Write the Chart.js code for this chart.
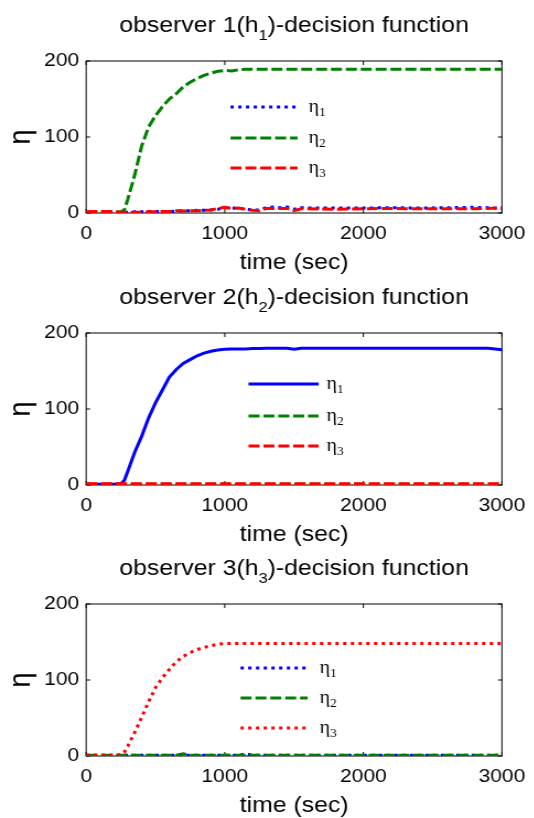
<!DOCTYPE html>
<html>
<head>
<meta charset="utf-8">
<script src="https://cdn.jsdelivr.net/npm/chart.js@4.4.1/dist/chart.umd.min.js"></script>
<style>
  html, body { margin: 0; padding: 0; background: #fff; width: 534px; height: 818px; overflow: hidden; }
  .panel { position: absolute; left: 0; transform-origin: 0 0; }
</style>
</head>
<body>
<div class="panel" id="p1"><canvas id="c1"></canvas></div>
<div class="panel" id="p2"><canvas id="c2"></canvas></div>
<div class="panel" id="p3"><canvas id="c3"></canvas></div>
<script>
// time axis (sec), shared by all series
const time = [0, 100, 200, 250, 275, 300, 350, 400, 450, 500,
  550, 600, 650, 700, 750, 800, 850, 900, 950, 1000,
  1050, 1100, 1150, 1200, 1250, 1300, 1350, 1400, 1450, 1500,
  1550, 1600, 1800, 2000, 2200, 2400, 2600, 2800, 2900, 3000];

// observer 1
const obs1Eta1 = [1, 0.5, 1, 1, 1, 1, 1.5, 1.5, 2, 2,
  2, 2, 2.5, 3, 3, 3.5, 3.5, 4, 5, 7,
  6.5, 6, 5, 4, 4, 7, 8, 7, 8, 5,
  7, 6.5, 6.5, 6.5, 7, 6.5, 7, 7.5, 7, 6];
const obs1Eta2 = [1, 1, 1, 1.5, 4, 18, 50, 88, 113, 128,
  140, 150, 157, 166, 172, 177, 181, 184, 186.5, 187.5,
  187, 188.5, 189, 189, 189, 189, 189, 189, 189, 189,
  189, 189, 189, 189, 189, 189, 189, 189, 189, 189];
const obs1Eta3 = [1.5, 2, 2, 1, 1, 0.5, 1, 1, 1.5, 1.5,
  2, 2, 3, 2.5, 3, 3, 3.5, 4, 6, 7.5,
  6, 6.5, 5, 3.5, 3, 6, 6, 6, 6, 3,
  5.5, 5.5, 5, 5.5, 6, 5.5, 5.5, 5.5, 6, 7];

// observer 2
const obs2Eta1 = [1, 1, 1, 1.5, 6, 18, 43, 64, 88, 108,
  125, 142, 152, 160, 165, 170, 173.5, 176, 177.5, 178.5,
  179, 179, 179, 179.5, 179.5, 180, 180, 180, 180, 178.5,
  180, 180, 180, 180, 180, 180, 180, 180, 180, 178];
const obs2Eta2 = [1, 1, 1, 1, 1, 1, 1, 1, 1, 1,
  1, 1, 1, 1, 1, 1, 1, 1, 1, 1,
  1, 1, 1, 1, 1, 1, 1, 1, 1, 1,
  1, 1, 1, 1, 1, 1, 1, 1, 1, 1];
const obs2Eta3 = [1.5, 1.5, 1.5, 1.5, 1.5, 1.5, 1.5, 1.5, 1.5, 1.5,
  1.5, 1.5, 1.5, 1.5, 1.5, 1.5, 1.5, 1.5, 1.5, 1.5,
  1.5, 1.5, 1.5, 1.5, 1.5, 1.5, 1.5, 1.5, 1.5, 1.5,
  1.5, 1.5, 1.5, 1.5, 1.5, 1.5, 1.5, 1.5, 1.5, 1.5];

// observer 3
const obs3Eta1 = [1, 1, 1, 1, 1, 1, 1, 1, 1, 1,
  1, 1, 1, 1, 1, 1, 1, 1, 1, 1,
  1, 1, 3, 1, 1, 1, 1, 1, 1, 1,
  1, 1, 1, 1, 1, 1, 1, 1, 1, 1];
const obs3Eta2 = [1, 1, 1, 1, 1, 1, 1, 1, 1, 1,
  1, 1, 1, 3, 1, 1, 1, 1, 1, 1,
  1, 1, 1, 1, 1, 1, 1, 1, 1, 1,
  1, 1, 1, 1, 1, 1, 1, 1, 1, 1];
const obs3Eta3 = [1, 1, 1, 1.5, 5, 13, 31, 51, 71, 90,
  103, 114, 124, 131, 136, 140, 143, 145, 147, 148,
  148, 148, 148, 148, 148, 148, 148, 148, 148, 148,
  148, 148, 148, 148, 148, 148, 148, 148, 148, 148];

const seriesNames = ['η', 'η', 'η'];
const seriesSubs = ['1', '2', '3'];
const xTicks = [0, 1000, 2000, 3000];
const yTicks = [0, 100, 200];

// the reference figure is slightly stretched horizontally
const SX = 1.1;
const W = 534 / SX;
const AREA_L = 86, AREA_R = 507;
const FONT = '"Liberation Sans", Arial, sans-serif';
const SERIF = '"Liberation Serif", "Times New Roman", serif';

const colors = ['#0000ff', '#008000', '#ff0000'];
const dashes = { dot: [3, 4], dash: [10, 3.5], solid: [] };

const panels = [
  { id: 'c1', box: 'p1', top: 0, h: 284, aTop: 61, aBot: 213, n: '1',
    series: [obs1Eta1, obs1Eta2, obs1Eta3], styles: ['dot', 'dash', 'dash'],
    leg: { x1: 230, x2: 297, tx: 308, rows: [46, 77, 107] } },
  { id: 'c2', box: 'p2', top: 272, h: 285, aTop: 61, aBot: 213, n: '2',
    series: [obs2Eta1, obs2Eta2, obs2Eta3], styles: ['solid', 'dash', 'dash'],
    leg: { x1: 248, x2: 318, tx: 326, rows: [51, 83, 113] } },
  { id: 'c3', box: 'p3', top: 545, h: 273, aTop: 59, aBot: 211, n: '3',
    series: [obs3Eta1, obs3Eta2, obs3Eta3], styles: ['dot', 'dash', 'dot'],
    leg: { x1: 240, x2: 307, tx: 319, rows: [64, 94, 124] } }
];

function drawParts(ctx, parts, x, y, align) {
  let total = 0;
  parts.forEach(p => { ctx.font = p.font; total += ctx.measureText(p.t).width; });
  let cx = align === 'center' ? x - total / 2 : x;
  ctx.textAlign = 'left';
  ctx.textBaseline = 'alphabetic';
  parts.forEach(p => {
    ctx.font = p.font;
    ctx.fillText(p.t, cx, y + (p.dy || 0));
    cx += ctx.measureText(p.t).width;
  });
}

const decor = {
  id: 'decor',
  beforeDatasetsDraw(chart, args, o) {
    const { ctx, chartArea: a, scales: { x, y } } = chart;
    ctx.save();
    ctx.strokeStyle = '#000';
    ctx.lineWidth = 1;
    ctx.strokeRect(a.left, a.top, a.right - a.left, a.bottom - a.top);
    ctx.beginPath();
    xTicks.forEach(v => {
      const px = x.getPixelForValue(v);
      ctx.moveTo(px, a.bottom); ctx.lineTo(px, a.bottom - 4);
      ctx.moveTo(px, a.top); ctx.lineTo(px, a.top + 4);
    });
    yTicks.forEach(v => {
      const py = y.getPixelForValue(v);
      ctx.moveTo(a.left, py); ctx.lineTo(a.left + 4 / SX, py);
      ctx.moveTo(a.right, py); ctx.lineTo(a.right - 4 / SX, py);
    });
    ctx.stroke();
    ctx.restore();
  },
  afterDatasetsDraw(chart, args, o) {
    const { ctx, chartArea: a } = chart;
    ctx.save();
    ctx.fillStyle = '#000';
    const cx = (a.left + a.right) / 2;
    // title
    drawParts(ctx, [
      { t: 'observer ' + o.n + '(h', font: '22.5px ' + FONT },
      { t: o.n, font: '15px ' + FONT, dy: 8 },
      { t: ')-decision function', font: '22.5px ' + FONT }
    ], cx, a.top - 29, 'center');
    // x axis title
    drawParts(ctx, [{ t: 'time (sec)', font: '22.5px ' + FONT }], cx, a.bottom + 56, 'center');
    // y axis title
    ctx.save();
    ctx.translate(22 / SX, (a.top + a.bottom) / 2);
    ctx.rotate(-Math.PI / 2);
    ctx.font = '27px ' + FONT;
    ctx.textAlign = 'center';
    ctx.textBaseline = 'middle';
    ctx.fillText('η', 0, 0);
    ctx.restore();
    // legend
    const lg = o.leg;
    chart.data.datasets.forEach((ds, i) => {
      const yy = a.top + lg.rows[i];
      ctx.save();
      ctx.strokeStyle = ds.borderColor;
      ctx.lineWidth = ds.borderWidth;
      ctx.setLineDash(ds.borderDash);
      ctx.beginPath();
      ctx.moveTo(lg.x1 / SX, yy);
      ctx.lineTo(lg.x2 / SX, yy);
      ctx.stroke();
      ctx.restore();
      drawParts(ctx, [
        { t: seriesNames[i], font: '18px ' + SERIF },
        { t: seriesSubs[i], font: '12px ' + SERIF, dy: 4 }
      ], lg.tx / SX, yy + 5, 'left');
    });
    ctx.restore();
  }
};

panels.forEach(p => {
  const box = document.getElementById(p.box);
  box.style.top = p.top + 'px';
  box.style.width = W + 'px';
  box.style.height = p.h + 'px';
  box.style.transform = 'scaleX(' + SX + ')';

  const datasets = p.series.map((s, i) => ({
    label: seriesNames[i] + seriesSubs[i],
    data: time.map((t, k) => ({ x: t, y: s[k] })),
    borderColor: colors[i],
    borderWidth: 3,
    borderDash: dashes[p.styles[i]],
    pointRadius: 0,
    tension: 0,
    fill: false,
    order: 3 - i
  }));

  new Chart(document.getElementById(p.id), {
    type: 'line',
    data: { datasets },
    options: {
      responsive: true,
      maintainAspectRatio: false,
      animation: false,
      events: [],
      layout: { padding: { top: p.aTop, right: W - AREA_R / SX, left: 0, bottom: 0 } },
      plugins: { legend: { display: false }, tooltip: { enabled: false }, decor: { n: p.n, leg: p.leg } },
      scales: {
        x: {
          type: 'linear', min: 0, max: 3000,
          grid: { display: false, drawTicks: false }, border: { display: false },
          ticks: { stepSize: 1000, maxRotation: 0, padding: 9, color: '#000',
            font: { family: FONT, size: 19 }, callback: v => String(v) },
          afterFit: s => { s.height = p.h - p.aBot; }
        },
        y: {
          min: 0, max: 200,
          grid: { display: false, drawTicks: false }, border: { display: false },
          ticks: { stepSize: 100, padding: 7 / SX, color: '#000',
            font: { family: FONT, size: 19 }, callback: v => String(v) },
          afterFit: s => { s.width = AREA_L / SX; }
        }
      }
    },
    plugins: [decor]
  });
});
</script>
</body>
</html>
